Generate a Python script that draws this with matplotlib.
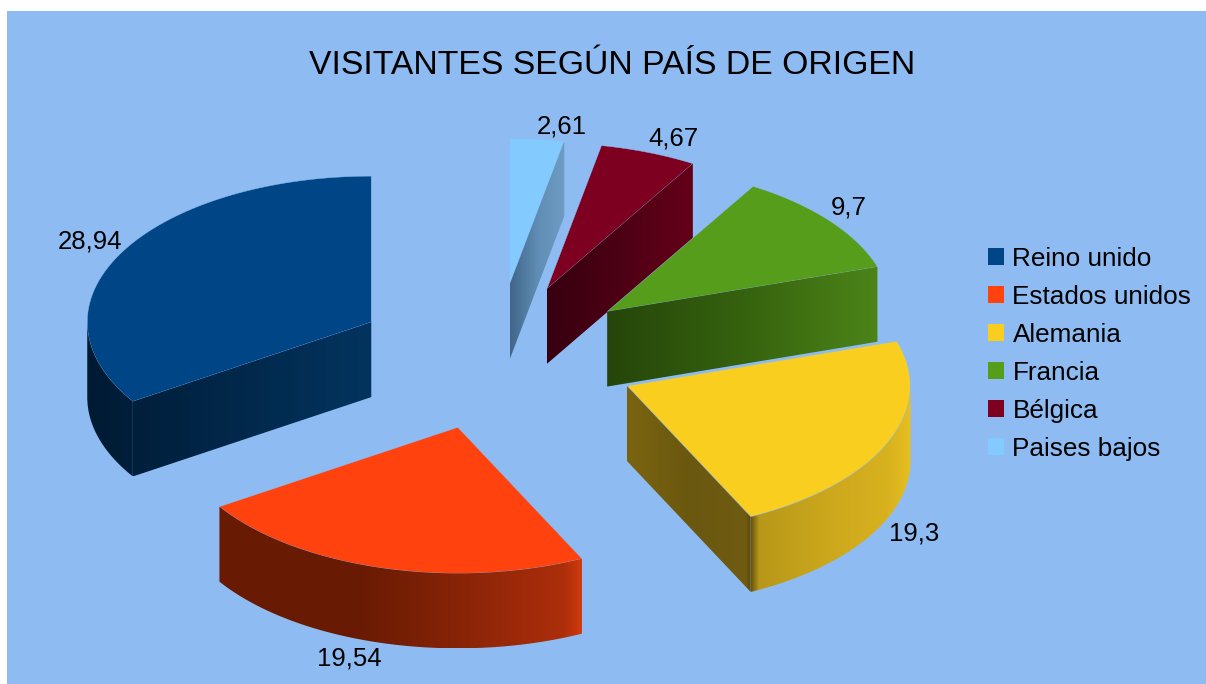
import numpy as np
import matplotlib
matplotlib.use('Agg')
import matplotlib.pyplot as plt
from matplotlib.colors import to_rgb
from matplotlib.patches import Patch, Polygon, Rectangle

plt.rcParams['font.family'] = ['Liberation Sans', 'DejaVu Sans']

paises = ['Reino unido', 'Estados unidos', 'Alemania', 'Francia', 'Bélgica', 'Paises bajos']
visitantes = [28.94, 19.54, 19.3, 9.7, 4.67, 2.61]
etiquetas = ['28,94', '19,54', '19,3', '9,7', '4,67', '2,61']

colores = ['#004586', '#ff420e', '#f9ce1f', '#579d1c', '#7e0021', '#83caff']
# gradient stops (position, colour), left to right on screen, for the straight cut and the rounded wall
color_corte = [[(0, '#001f3b'), (1, '#03345f')], None,
               [(0, '#7a640f'), (0.5, '#6b5810'), (0.95, '#6f5b10'), (1, '#574609')],
               [(0, '#25450a'), (0.5, '#36620f'), (1, '#4c8418')],
               [(0, '#360010'), (1, '#640019')],
               [(0, '#41668a'), (0.5, '#5f8db3'), (1, '#6f9cc2')]]
color_arco = [[(0, '#001a32'), (1, '#001f3b')],
              [(0, '#691a03'), (0.38, '#691a03'), (0.55, '#7a2006'), (0.95, '#ac2e0b'), (1, '#cf3a0c')],
              [(0, '#6a560f'), (0.05, '#b8981a'), (0.5, '#cca81c'), (0.85, '#d8b11f'), (1, '#e6bf20')],
              None, None, None]
borde = [0.3, 0.3, 0.8, 0.3, 0.3, 0.5]
# offset of each value label from its slice rim, pixels
offset_etiqueta = [(-32, -11), (-32, 91), (26, 91), (19, -13), (25, -14), (25, -13)]

bg = '#8ebcf2'
cx, cy = 496, 357
rx, ry = 284, 146
alto = 75
explode = 0.5


def gradiente(stops, n=256):
    t = np.linspace(0, 1, n)
    p = [s[0] for s in stops]
    rgb = np.array([to_rgb(s[1]) for s in stops])
    return np.column_stack([np.interp(t, p, rgb[:, k]) for k in range(3)])


def pared(ax, x, y, stops, z):
    # wall hanging below the line x,y: a gradient image clipped to the wall outline
    x0, x1 = min(x), max(x)
    y0, y1 = min(y), max(y) + alto
    im = ax.imshow(gradiente(stops)[None, :, :], extent=(x0, x1, y1, y0), aspect='auto',
                   interpolation='bilinear', zorder=z)
    im.set_clip_path(Polygon(np.column_stack([np.r_[x, x[::-1]], np.r_[y, y[::-1] + alto]]),
                             transform=ax.transData))


fig = plt.figure(figsize=(12.06, 6.84), dpi=100, facecolor='white')
ax = fig.add_axes([0, 0, 1, 1])
ax.add_patch(Rectangle((7, 11), 1199, 673, facecolor=bg, edgecolor='none', zorder=0))

total = sum(visitantes)
fin = 90 + 360 * np.cumsum(visitantes) / total
ini = np.concatenate([[90], fin[:-1]])
medio = np.radians((ini + fin) / 2)
ax_x = cx + explode * rx * np.cos(medio)
ax_y = cy - explode * ry * np.sin(medio)

# slices further back are painted first
orden = np.argsort(ax_y)
for z, i in enumerate(orden):
    z = z * 3 + 2
    a = np.radians(np.linspace(ini[i], fin[i], 200))
    xa = ax_x[i] + rx * np.cos(a)
    ya = ax_y[i] - ry * np.sin(a)
    ax.fill(np.r_[ax_x[i], xa], np.r_[ax_y[i], ya], facecolor=colores[i], edgecolor=bg,
            linewidth=borde[i], zorder=z)

    if color_arco[i] is not None:
        vis = np.sin(a) < 0
        pared(ax, xa[vis], ya[vis], color_arco[i], z + 1)
    if color_corte[i] is not None:
        # blue shows its closing cut, the others their opening cut
        k = -1 if np.cos(a[-1]) < 0 else 0
        pared(ax, np.array([ax_x[i], xa[k]]), np.array([ax_y[i], ya[k]]), color_corte[i], z + 1)

    m = medio[i]
    px = ax_x[i] + rx * np.cos(m) + offset_etiqueta[i][0]
    py = ax_y[i] - ry * np.sin(m) + offset_etiqueta[i][1]
    ax.text(px, py, etiquetas[i], fontsize=18.5, color='black', ha='center', va='center', zorder=30)

ax.set_xlim(0, 1206)
ax.set_ylim(684, 0)
ax.axis('off')

ax.text(612, 65, 'VISITANTES SEGÚN PAÍS DE ORIGEN', fontsize=24.3, color='black',
        ha='center', va='center', zorder=30)

handles = [Patch(facecolor=c, edgecolor='none') for c in colores]
ax.legend(handles, paises, loc='upper left', bbox_to_anchor=(984, 243), bbox_transform=ax.transData,
          frameon=False, fontsize=18.8, handlelength=0.62, handleheight=0.62, handletextpad=0.32,
          labelspacing=0.535, borderpad=0, borderaxespad=0.15, labelcolor='black')

fig.savefig('out.png', dpi=100, facecolor='white')
